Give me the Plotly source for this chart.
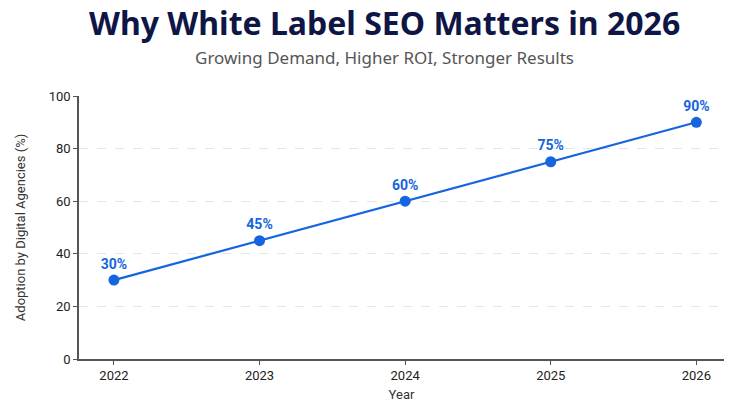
import plotly.graph_objects as go

years = [2022, 2023, 2024, 2025, 2026]
adoption = [30, 45, 60, 75, 90]
labels = ["30%", "45%", "60%", "75%", "90%"]
y_ticks = [0, 20, 40, 60, 80, 100]

blue = "#1565e0"

fig = go.Figure()
fig.add_trace(go.Scatter(
    x=years, y=adoption, mode="lines+markers+text",
    text=labels, textposition="top center",
    textfont=dict(family="Roboto", size=14, color=blue, weight="bold"),
    line=dict(color=blue, width=2.2),
    marker=dict(color=blue, size=11),
    cliponaxis=False, showlegend=False,
))

# page has an 8px body margin, so the figure is offset by 8px
fig.update_layout(
    width=742, height=394,
    margin=dict(l=71, r=26, t=88, b=43),
    paper_bgcolor="white", plot_bgcolor="white",
    font=dict(family="Roboto", color="#333333", size=13),
    annotations=[
        dict(text="<b>Why White Label SEO Matters in 2026</b>", xref="paper", yref="paper",
             x=0.474, y=1.0, yshift=74, showarrow=False, xanchor="center", yanchor="middle",
             font=dict(family="Noto Sans", size=32, color="#0f1646")),
        dict(text="Growing Demand, Higher ROI, Stronger Results", xref="paper", yref="paper",
             x=0.474, y=1.0, yshift=39, showarrow=False, xanchor="center", yanchor="middle",
             font=dict(family="Noto Sans", size=17, color="#555555")),
    ],
)
fig.update_xaxes(
    range=[2021.76, 2026.19], tickvals=years, ticktext=[str(y) for y in years],
    showgrid=False, showline=True, linecolor="#555555", linewidth=1.5,
    ticks="outside", ticklen=4, tickcolor="#555555",
    tickfont=dict(size=13, color="#222222"),
    title=dict(text="Year", font=dict(size=13, color="#333333"), standoff=19),
    zeroline=False, automargin=False,
)
fig.update_yaxes(
    range=[0, 100], tickvals=y_ticks,
    showgrid=True, gridcolor="#e6e6e6", griddash="dash", gridwidth=1,
    showline=True, linecolor="#555555", linewidth=1.5,
    ticks="outside", ticklen=4, tickcolor="#555555",
    tickfont=dict(size=13, color="#222222"),
    title=dict(text="Adoption by Digital Agencies (%)", font=dict(size=13, color="#333333"), standoff=20),
    zeroline=False, automargin=False,
)
fig.write_html("out.html")
